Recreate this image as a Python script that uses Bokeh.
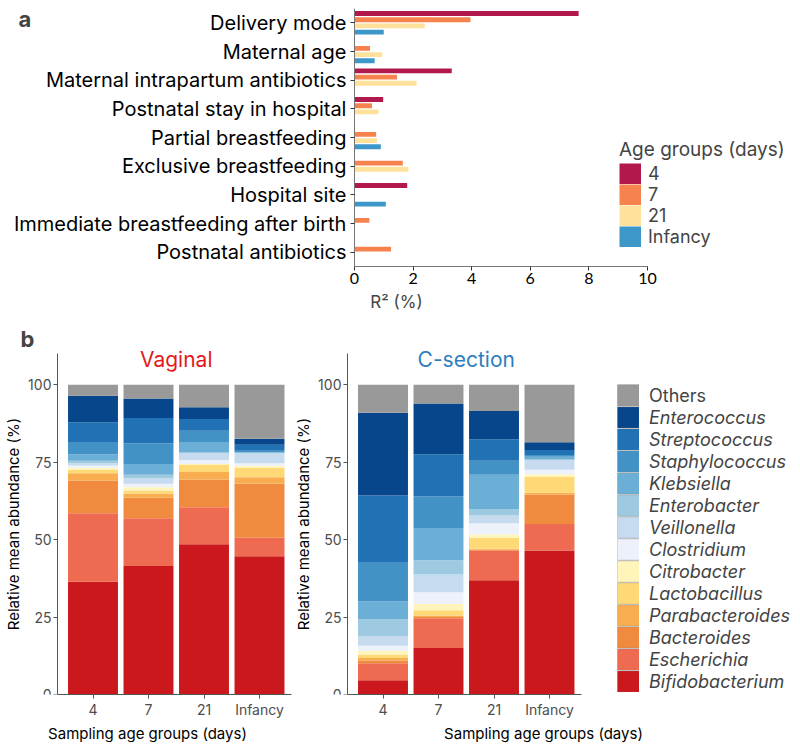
import numpy as np
from bokeh.plotting import figure
from bokeh.models import (ColumnDataSource, FactorRange, Range1d, FixedTicker,
                          Legend, LegendItem, Label)
from bokeh.transform import dodge
from bokeh.layouts import column, row
from bokeh.embed import file_html
from bokeh.resources import INLINE

# ---------------- Panel a data ----------------
factors_a = ["Delivery mode", "Maternal age", "Maternal intrapartum antibiotics",
             "Postnatal stay in hospital", "Partial breastfeeding",
             "Exclusive breastfeeding", "Hospital site",
             "Immediate breastfeeding after birth", "Postnatal antibiotics"]
r2_day4 = [7.65, None, 3.32, 0.98, None, None, 1.80, None, None]
r2_day7 = [3.96, 0.53, 1.45, 0.60, 0.74, 1.65, None, 0.51, 1.25]
r2_day21 = [2.40, 0.95, 2.12, 0.82, 0.77, 1.84, None, None, None]
r2_infancy = [1.00, 0.69, None, None, 0.90, None, 1.07, None, None]
r2_ticks = [0, 2, 4, 6, 8, 10]
age_groups = ["4", "7", "21", "Infancy"]
age_colors = ["#B2184B", "#F6824E", "#FEE19A", "#3D97C9"]

# ---------------- Panel b data ----------------
genera = ["Bifidobacterium", "Escherichia", "Bacteroides", "Parabacteroides",
          "Lactobacillus", "Citrobacter", "Clostridium", "Veillonella",
          "Enterobacter", "Klebsiella", "Staphylococcus", "Streptococcus",
          "Enterococcus", "Others"]
genus_colors = ["#CB181D", "#EE6A50", "#F08A3F", "#F7AD50", "#FED976", "#FFF5BA",
                "#EDF1FA", "#C6DBEF", "#9ECAE1", "#6BAED6", "#4292C6", "#2171B5",
                "#08468C", "#999999"]
sampling_ages = ["4", "7", "21", "Infancy"]
abundance_ticks = [0, 25, 50, 75, 100]

vaginal_4 = [36.4, 22.1, 10.5, 2.4, 1.1, 0.7, 0.7, 0.7, 0.8, 2.1, 4.0, 6.4, 8.5, 3.6]
vaginal_7 = [41.5, 15.4, 6.6, 1.3, 1.0, 1.1, 1.1, 1.8, 1.1, 3.5, 6.6, 8.2, 6.3, 4.5]
vaginal_21 = [48.5, 11.9, 8.9, 2.5, 2.3, 0.3, 1.3, 2.1, 0.3, 3.4, 3.6, 3.8, 3.8, 7.3]
vaginal_inf = [44.6, 6.0, 17.4, 2.1, 3.1, 0.6, 0.8, 3.2, 0.2, 0.3, 0.4, 1.9, 1.9, 17.5]

csection_4 = [4.6, 5.5, 0.9, 0.8, 1.0, 1.3, 1.6, 3.2, 5.3, 5.8, 12.5, 21.7, 26.7, 9.1]
csection_7 = [15.0, 9.6, 0.4, 0.5, 1.7, 2.0, 3.8, 5.7, 4.6, 10.4, 10.3, 13.5, 16.4, 6.1]
csection_21 = [36.9, 9.5, 0.3, 0.3, 3.6, 1.0, 3.7, 2.5, 1.9, 11.2, 4.5, 7.0, 9.1, 8.5]
csection_inf = [46.5, 8.5, 9.5, 0.6, 5.1, 0.9, 1.4, 3.2, 0.3, 0.7, 0.6, 1.6, 2.5, 18.6]

FONT = "Inter"
TICKFONT = "Lato"
NAN = np.array([np.nan])


def swatch(p, color, width):
    # thick butt-capped line: its legend glyph fills the whole legend cell
    return p.line(x=NAN, y=NAN, line_color=color, line_width=width, line_cap="butt")


# ---------------- Panel a ----------------
pa = figure(width=792, height=320, title=None,
            y_range=FactorRange(factors=list(reversed(factors_a)), range_padding=0),
            x_range=Range1d(-12.08, 14.95), output_backend="svg", toolbar_location=None,
            min_border_left=0, min_border_right=0, min_border_top=8,
            min_border_bottom=54)
pa.outline_line_color = None
pa.xgrid.visible = False
pa.ygrid.visible = False

offsets = [0.324, 0.108, -0.108, -0.324]
series_a = [r2_day4, r2_day7, r2_day21, r2_infancy]
for vals, off, col in zip(series_a, offsets, age_colors):
    ys, xs = [], []
    for cat, v in zip(factors_a, vals):
        if v is not None:
            ys.append(cat)
            xs.append(v)
    src = ColumnDataSource(dict(cat=ys, r2=xs))
    pa.hbar(y=dodge("cat", off, range=pa.y_range), left=0, right="r2",
            height=0.17, source=src, fill_color=col, line_color=None)

pa.xaxis.ticker = FixedTicker(ticks=r2_ticks)
pa.xaxis.bounds = (r2_ticks[0], r2_ticks[-1])
pa.xaxis.axis_label = "R\u00b2 (%)"
pa.xaxis.axis_label_text_font = FONT
pa.xaxis.axis_label_text_font_size = "17px"
pa.xaxis.axis_label_text_font_style = "normal"
pa.xaxis.axis_label_standoff = 5
pa.xaxis.major_label_text_font = TICKFONT
pa.xaxis.major_label_text_font_size = "16px"
pa.xaxis.major_label_text_color = "black"
pa.xaxis.major_label_standoff = 2
pa.yaxis.fixed_location = 0
pa.yaxis.major_label_text_font = FONT
pa.yaxis.major_label_text_font_size = "20px"
pa.yaxis.major_label_text_color = "black"
pa.yaxis.major_label_standoff = 4
for ax in (pa.xaxis, pa.yaxis):
    ax.axis_line_color = "#777777"
    ax.major_tick_line_color = "#333333"
    ax.major_tick_out = 4
    ax.major_tick_in = 0
    ax.minor_tick_line_color = None

PITCH_A = 21
leg_a = Legend(items=[LegendItem(label=g, renderers=[swatch(pa, c, PITCH_A)])
                      for g, c in zip(age_groups, age_colors)],
               location=(619, 19), title="Age groups (days)",
               title_text_font=FONT, title_text_font_size="19px",
               title_text_font_style="normal", title_standoff=2,
               label_text_font=FONT, label_text_font_size="18px",
               glyph_width=22, glyph_height=PITCH_A, label_height=PITCH_A,
               label_standoff=7, spacing=0, padding=0, margin=0,
               border_line_color=None, background_fill_alpha=0)
pa.add_layout(leg_a)
pa.add_layout(Label(x=18, y=248, x_units="screen", y_units="screen", text="a",
                    text_baseline="alphabetic",
                    text_font=FONT, text_font_size="22px", text_font_style="bold"))


# ---------------- Panel b ----------------
positions = list(range(len(sampling_ages)))
PX_PER_CAT = 55.5


def make_panel(title, title_color, cols, width, first_center, tag=None):
    data = {"pos": positions}
    for i, g in enumerate(genera):
        data[g] = [c[i] for c in cols]
    src = ColumnDataSource(data)
    x0 = -first_center / PX_PER_CAT
    p = figure(width=width, height=425, title=None,
               x_range=Range1d(x0, x0 + width / PX_PER_CAT),
               y_range=Range1d(0, 379 / 3.14), output_backend="svg",
               toolbar_location=None, min_border_left=0, min_border_right=0,
               min_border_top=0, min_border_bottom=46)
    p.outline_line_color = None
    p.xgrid.visible = False
    p.ygrid.visible = False
    p.vbar_stack(genera, x="pos", width=0.9, fill_color=genus_colors,
                 line_color=None, source=src)
    p.yaxis.ticker = FixedTicker(ticks=abundance_ticks)
    p.yaxis.bounds = (0, 110)
    p.yaxis.fixed_location = -0.64
    p.xaxis.ticker = FixedTicker(ticks=positions)
    p.xaxis.major_label_overrides = {i: a for i, a in zip(positions, sampling_ages)}
    p.xaxis.bounds = (-0.64, 3.58)
    p.yaxis.axis_label = "Relative mean abundance (%)"
    p.xaxis.axis_label = "Sampling age groups (days)"
    for ax in (p.xaxis, p.yaxis):
        ax.axis_line_color = "#555555"
        ax.major_tick_line_color = "#555555"
        ax.major_tick_out = 4
        ax.major_tick_in = 0
        ax.minor_tick_line_color = None
        ax.major_label_text_font = FONT
        ax.major_label_text_font_size = "14px"
        ax.major_label_text_color = "#4D4D4D"
        ax.major_label_standoff = 2
        ax.axis_label_text_font = FONT
        ax.axis_label_text_font_size = "15px"
        ax.axis_label_text_font_style = "normal"
        ax.axis_label_text_color = "black"
        ax.axis_label_standoff = 3
    p.yaxis.axis_label_standoff = 2
    p.add_layout(Label(x=1.5, y=108.0, text=title, text_align="center",
                       text_baseline="alphabetic", text_color=title_color,
                       text_font=FONT, text_font_size="21px"))
    if tag:
        p.add_layout(Label(x=20, y=356, x_units="screen", y_units="screen", text=tag,
                           text_baseline="alphabetic",
                           text_font=FONT, text_font_size="22px", text_font_style="bold"))
    return p


pv = make_panel("Vaginal", "#E3191C", [vaginal_4, vaginal_7, vaginal_21, vaginal_inf],
                294, 92.5, tag="b")
pc = make_panel("C-section", "#2E7EBF", [csection_4, csection_7, csection_21, csection_inf],
                498, 88.5)

# legend: gray cell under a slightly thinner colour band -> thin gray separators
ITEM_H = 22
items_b = []
for g, c in zip(genera, genus_colors):
    items_b.append((g, [swatch(pc, "#808080", ITEM_H), swatch(pc, c, ITEM_H - 1.2)]))
top_down = list(reversed(items_b))
leg_others = Legend(items=[LegendItem(label=top_down[0][0], renderers=top_down[0][1])])
leg_genera = Legend(items=[LegendItem(label=g, renderers=r) for g, r in top_down[1:]],
                    label_text_font_style="italic")
for lg in (leg_others, leg_genera):
    lg.label_text_font = FONT
    lg.label_text_font_size = "18px"
    lg.label_standoff = 10
    lg.glyph_width = 22
    lg.glyph_height = ITEM_H
    lg.label_height = ITEM_H
    lg.spacing = 0
    lg.padding = 0
    lg.margin = 0
    lg.border_line_color = None
    lg.background_fill_alpha = 0
n_gen = len(top_down) - 1
leg_genera.location = (323, 2)
leg_others.location = (323, 2 + ITEM_H * n_gen)
pc.add_layout(leg_others)
pc.add_layout(leg_genera)

layout = column(pa, row(pv, pc))
open("out.html", "w").write(file_html(layout, INLINE))
